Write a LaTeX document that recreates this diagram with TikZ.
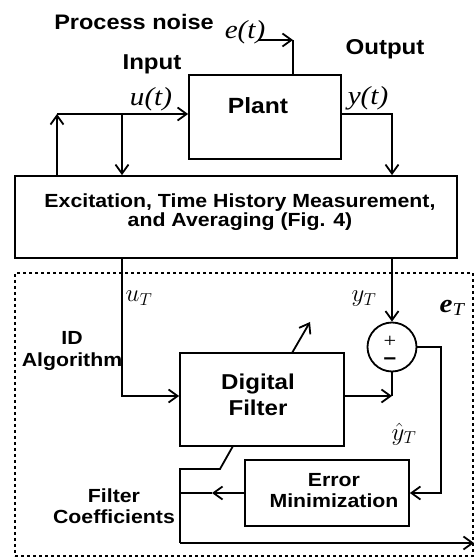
\documentclass[tikz,border=0pt]{standalone}
\usepackage{fontspec}
\setmainfont{Liberation Sans}[FakeStretch=1.12]
\newfontfamily\tnr{Liberation Serif}[FakeStretch=1.12]
\usetikzlibrary{arrows.meta}

\begin{document}
\begin{tikzpicture}[x=1pt,y=1pt,line width=1.8pt,
    >={Straight Barb[length=9pt,width=13pt]},
    blk/.style={draw,inner sep=0pt},
    txt/.style={font=\fontsize{19}{21}\selectfont\bfseries,align=center,inner sep=0pt},
    sym/.style={font=\fontsize{26}{26}\selectfont,inner sep=0pt}]
  \useasboundingbox (0,0) rectangle (474,558);

  % blocks
  \node[blk,minimum width=152pt,minimum height=84pt] (plant) at (265,441) {};
  \node[blk,minimum width=442pt,minimum height=82pt] (exc) at (236,341) {};
  \node[blk,minimum width=164pt,minimum height=93pt] (df) at (262,158.5) {};
  \node[blk,minimum width=164pt,minimum height=66pt] (em) at (327,65) {};
  \node[blk,circle,minimum size=49pt] (sum) at (392,211) {};
  \node[draw,dash pattern=on 3pt off 3pt,inner sep=0pt,
        minimum width=458pt,minimum height=283pt] (idbox) at (244,143.5) {};

  % block texts
  \node[txt,font=\fontsize{22}{22}\selectfont\bfseries] (plantlbl) at (258,452) {Plant};
  \node[txt,font=\fontsize{19}{19}\selectfont\bfseries] (exclbl) at (240,346)
    {Excitation, Time History Measurement,\\and Averaging (Fig. 4)};
  \node[txt,font=\fontsize{21.5}{26}\selectfont\bfseries] (dflbl) at (258,163) {Digital\\Filter};
  \node[txt,font=\fontsize{19}{21}\selectfont\bfseries] (emlbl) at (334,67.5) {Error\\Minimization};
  \node[txt,font=\fontsize{20}{18}\selectfont] (signs) at (390,207)
    {{\tnr +}\\{\bfseries\char"2212}};

  % outside labels
  \node[txt,font=\fontsize{21}{21}\selectfont\bfseries] (noise) at (134,536) {Process noise};
  \node[txt,font=\fontsize{21.5}{21.5}\selectfont\bfseries] (inlbl) at (152,494) {Input};
  \node[txt,font=\fontsize{21.5}{21.5}\selectfont\bfseries] (outlbl) at (385,509) {Output};
  \node[txt,font=\fontsize{19}{22}\selectfont\bfseries] (idlbl) at (72,207) {ID\\Algorithm};
  \node[txt,font=\fontsize{19}{21}\selectfont\bfseries] (coeflbl) at (114,52) {Filter\\Coefficients};
  \node[sym] (elbl) at (245,526) {\tnr\itshape e(t)};
  \node[sym] (ulbl) at (151,459) {\tnr\itshape u(t)};
  \node[sym] (ylbl) at (368,460) {\tnr\itshape y(t)};
  \node[sym] (uTlbl) at (139,260) {$u_T$};
  \node[sym] (yTlbl) at (364,259) {$y_T$};
  \node[sym] (yhlbl) at (404,124) {$\hat{y}_T$};
  \node[sym] (eTlbl) at (452,250) {\tnr\bfseries\itshape e\textsubscript{\mdseries T}};

  % corner points of the wiring
  \coordinate (ul) at (57,444);
  \coordinate (ud) at (122,444);
  \coordinate (yc) at (392,444);
  \coordinate (en) at (258,518);
  \coordinate (ec) at (293,518);
  \coordinate (uc) at (122,162);
  \coordinate (dc) at (392,162);
  \coordinate (er) at (441,65);
  \coordinate (fa) at (212,65);
  \coordinate (ft) at (180,89);
  \coordinate (fk) at (220,89);
  \coordinate (fs) at (233,112);
  \coordinate (fb) at (180,15);
  \coordinate (fo) at (474,15);
  \coordinate (dt) at (292,205);
  \coordinate (dh) at (310,236);

  % upper loop
  \draw[->] (exc.north -| ul) -- (ul);
  \draw[->] (ul) -- (plant.west |- ul);
  \draw[->] (ud) -- (exc.north -| ud);
  \draw[->] (plant.east |- yc) -- (yc) -- (exc.north -| yc);
  \draw (plant.north -| ec) -- (ec);
  \draw[->] (en) -- (ec);

  % identification loop
  \draw[->] (exc.south -| uc) -- (uc) -- (df.west |- uc);
  \draw[->] (exc.south -| sum) -- (sum.north);
  \draw[->] (df.east |- dc) -- (dc);
  \draw (sum.south) -- (dc);
  \draw[->] (sum.east) -| (er) -- (em.east);
  \draw[->] (em.west) -- (fa);
  \draw (fa) -- (em.west -| ft);
  \draw (fs) -- (fk) -- (ft) -- (fb);
  \draw[->] (fb) -- (fo);
  \draw[->] (dt) -- (dh);
\end{tikzpicture}
\end{document}
